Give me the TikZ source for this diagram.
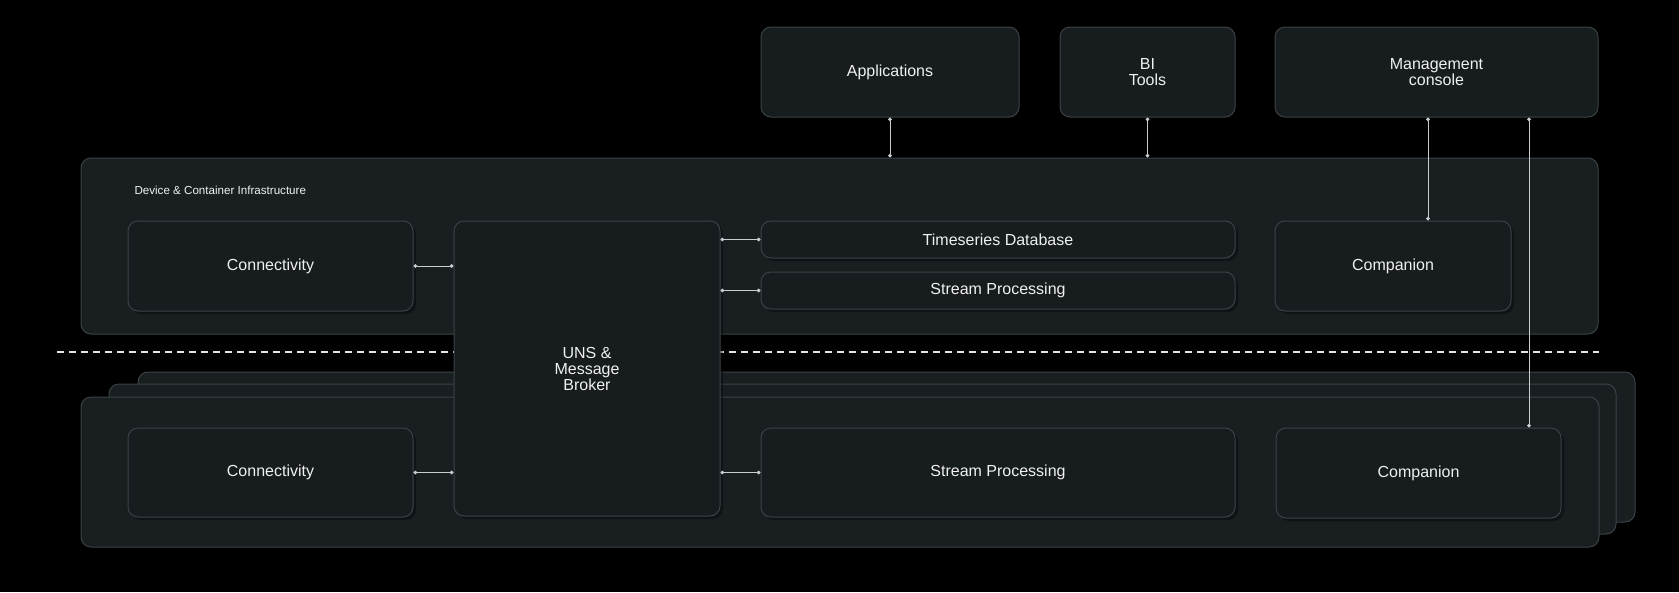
\documentclass[tikz,border=0pt]{standalone}
\usepackage{fontspec}
\setmainfont{Liberation Sans}
\usepackage{xcolor}
\usetikzlibrary{arrows.meta,positioning,shadows}

\definecolor{panelfill}{HTML}{191E21}
\definecolor{boxfill}{HTML}{171C1F}
\definecolor{edgegray}{HTML}{3B4245}
\definecolor{linkgray}{HTML}{C9CDCF}

\begin{document}
\begin{tikzpicture}[
    x=1pt, y=-1pt,
    every node/.style={font=\fontsize{16}{16}\selectfont, text=white!94!black, align=center},
    panel/.style={draw=edgegray, line width=1pt, fill=panelfill, rounded corners=10pt},
    blockbox/.style={draw=edgegray, line width=1pt, fill=boxfill, rounded corners=10pt, inner sep=0pt,
        drop shadow={fill=black, opacity=0.35, shadow xshift=3pt, shadow yshift=-3pt}},
    link/.style={draw=linkgray, line width=1pt, {Circle[length=3.6pt]}-{Circle[length=3.6pt]}}
]
\fill[black] (0,0) rectangle (1679,592);
\useasboundingbox (0,0) rectangle (1679,592);

\node[blockbox, minimum width=258pt, minimum height=90pt] (apps) at (890,72) {Applications};
\node[blockbox, minimum width=175pt, minimum height=90pt] (bitools) at (1147.5,72) {BI\\Tools};
\node[blockbox, minimum width=323pt, minimum height=90pt] (mgmt) at (1436.5,72) {Management\\console};

\node[panel, minimum width=1517pt, minimum height=176pt] (edgepanel) at (839.5,246) {};
\node[anchor=west, font=\fontsize{11.6}{12}\selectfont] (infra) at (131,190) {Device \& Container Infrastructure};

\foreach \l/\t/\r/\b in {138/372/1635/522, 109/384/1616/534} {
    \draw[panel] (\l,\t) rectangle (\r,\b);
}
\node[panel, minimum width=1518pt, minimum height=150pt] (sitepanel) at (840,472) {};

\draw[color=white!90!black, line width=1.6pt, dash pattern=on 6.5pt off 5.5pt] (57,352) -- (edgepanel.east |- 0,352);

\node[blockbox, minimum width=285pt, minimum height=90pt] (conn1) at (270.5,266) {Connectivity};
\node[blockbox, minimum width=266pt, minimum height=295pt] (uns) at (587,368.5) {UNS \&\\Message\\Broker};
\node[blockbox, minimum width=474pt, minimum height=37pt] (tsdb) at (998,239.5) {Timeseries Database};
\node[blockbox, minimum width=474pt, minimum height=37pt] (stream1) at (998,290.5) {Stream Processing};
\node[blockbox, minimum width=236pt, minimum height=90pt] (comp1) at (1393,266) {Companion};

\node[blockbox, minimum width=285pt, minimum height=89pt] (conn2) at (270.5,472.5) {Connectivity};
\node[blockbox, minimum width=474pt, minimum height=89pt] (stream2) at (998,472.5) {Stream Processing};
\node[blockbox, minimum width=285pt, minimum height=90pt] (comp2) at (1418.5,473) {Companion};

\draw[link] (conn1.east) -- (conn1.east -| uns.west);
\draw[link] (tsdb.west -| uns.east) -- (tsdb.west);
\draw[link] (stream1.west -| uns.east) -- (stream1.west);
\draw[link] (conn2.east) -- (conn2.east -| uns.west);
\draw[link] (stream2.west -| uns.east) -- (stream2.west);

\draw[link] (apps.south) -- (apps.south |- edgepanel.north);
\draw[link] (bitools.south) -- (bitools.south |- edgepanel.north);
\draw[link] (1428,0 |- mgmt.south) -- (1428,0 |- comp1.north);
\draw[link] (1529,0 |- mgmt.south) -- (1529,0 |- comp2.north);
\end{tikzpicture}
\end{document}
